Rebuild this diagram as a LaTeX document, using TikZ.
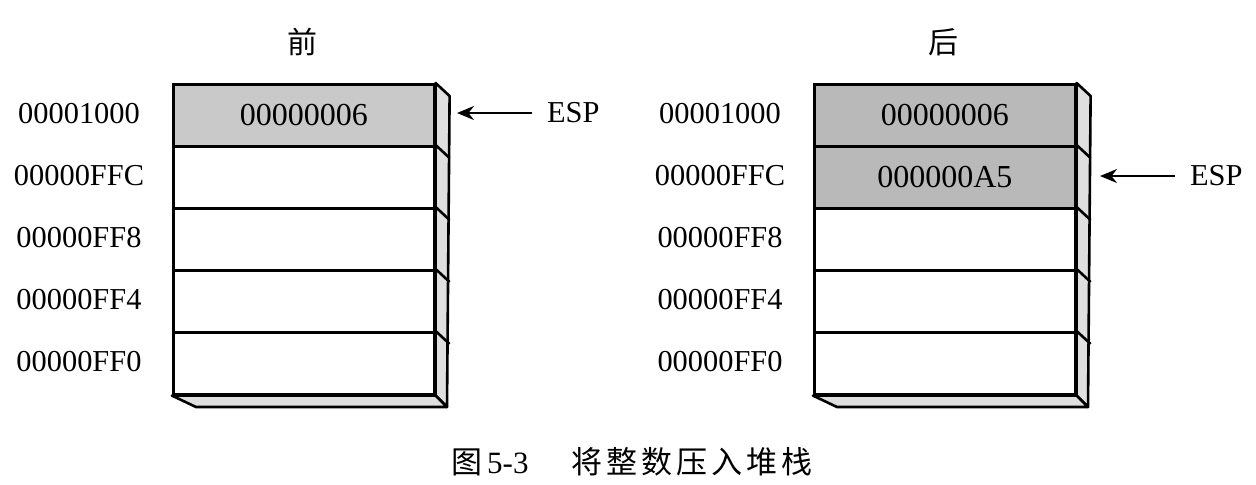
\documentclass[tikz,border=0pt]{standalone}
\usepackage{fontspec}
\setmainfont{Liberation Serif}
\newfontfamily\cjk{Noto Sans CJK SC}
\usetikzlibrary{arrows.meta}
\tikzset{
  cell/.style={draw, line width=1.3pt, minimum width=130.5pt, minimum height=31pt, inner sep=0pt, anchor=north west, font=\fontsize{16}{16}\selectfont},
  full/.style={fill=gray!42},
  fuller/.style={fill=gray!55},
  addr/.style={font=\fontsize{15.2}{15.2}\selectfont},
  face/.style={draw, line width=1.3pt, fill=gray!25, line join=round},
  edge/.style={line width=1.3pt},
  ptr/.style={line width=1pt, -{Stealth[length=8.5pt,width=7pt]}},
}
\begin{document}
\begin{tikzpicture}[x=0.5pt, y=-0.5pt]
  \useasboundingbox (0,0) rectangle (1256,484);

  % Before
  \node (T1)[font=\cjk\fontsize{15}{15}\selectfont] at (302,42) {前};
  \node (a0)[addr] at (79,114) {00001000};
  \node (a1)[addr] at (79,176) {00000FFC};
  \node (a2)[addr] at (79,238) {00000FF8};
  \node (a3)[addr] at (79,300) {00000FF4};
  \node (a4)[addr] at (79,362) {00000FF0};

  \node (c0)[cell, full] at (172,83)  {00000006};
  \node (c1)[cell]       at (172,145) {};
  \node (c2)[cell]       at (172,207) {};
  \node (c3)[cell]       at (172,269) {};
  \node (c4)[cell]       at (172,331) {};

  \draw[face] (c0.north east) -- ++(14,13) -- (447,407) -- (c4.south east) -- cycle;
  \draw[face] (c4.south west) -- (c4.south east) -- (447,407) -- (196,407) -- cycle;
  \draw[edge] (c1.north east) -- ++(14,13);
  \draw[edge] (c2.north east) -- ++(14,13);
  \draw[edge] (c3.north east) -- ++(14,13);
  \draw[edge] (c4.north east) -- ++(14,13);

  % ESP
  \node (esp1)[addr, anchor=west] at (540,113) {ESP};
  \coordinate (p1) at (457,113);
  \draw[ptr] (esp1.west) ++(-8,0) -- (p1);

  % After
  \begin{scope}[shift={(641,0)}]
    \node (T2)[font=\cjk\fontsize{15}{15}\selectfont] at (302,42) {后};
    \node (b0)[addr] at (79,114) {00001000};
    \node (b1)[addr] at (79,176) {00000FFC};
    \node (b2)[addr] at (79,238) {00000FF8};
    \node (b3)[addr] at (79,300) {00000FF4};
    \node (b4)[addr] at (79,362) {00000FF0};

    \node (d0)[cell, fuller] at (172,83)  {00000006};
    \node (d1)[cell, fuller] at (172,145) {000000A5};
    \node (d2)[cell]         at (172,207) {};
    \node (d3)[cell]         at (172,269) {};
    \node (d4)[cell]         at (172,331) {};

    \draw[face] (d0.north east) -- ++(14,13) -- (447,407) -- (d4.south east) -- cycle;
    \draw[face] (d4.south west) -- (d4.south east) -- (447,407) -- (196,407) -- cycle;
    \draw[edge] (d1.north east) -- ++(14,13);
    \draw[edge] (d2.north east) -- ++(14,13);
    \draw[edge] (d3.north east) -- ++(14,13);
    \draw[edge] (d4.north east) -- ++(14,13);

    \node (esp2)[addr, anchor=west] at (542,176) {ESP};
    \coordinate (p2) at (459,176);
    \draw[ptr] (esp2.west) ++(-8,0) -- (p2);
  \end{scope}

  % caption
  \node (cap)[anchor=west, font=\fontsize{15.5}{15.5}\selectfont] at (444,462)
    {{\cjk 图}\,5-3\hspace{1.4em}{\cjk 将\kern2pt 整\kern2pt 数\kern2pt 压\kern2pt 入\kern2pt 堆\kern2pt 栈}};
\end{tikzpicture}
\end{document}
